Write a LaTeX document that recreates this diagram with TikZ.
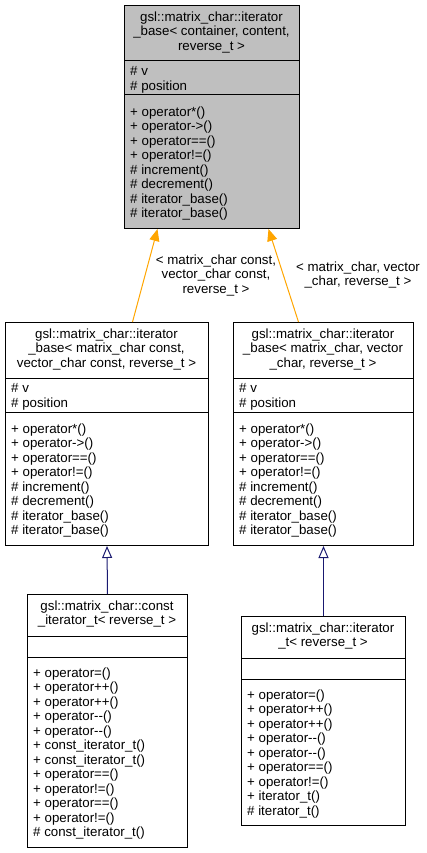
\documentclass[tikz,border=0pt]{standalone}
\usepackage{fontspec}
\setmainfont{Liberation Sans}
\usetikzlibrary{positioning,arrows.meta}
\definecolor{boxgray}{HTML}{BFBFBF}
\definecolor{tmplorange}{HTML}{FFA500}
\definecolor{inhblue}{HTML}{191970}
\tikzset{
  classbox/.style={draw, line width=1pt, anchor=north west, inner sep=0pt},
  members/.style={anchor=north west, inner sep=0pt, align=left,
    font=\fontsize{13.3}{14.5}\selectfont},
  classname/.style={anchor=north, inner sep=0pt, align=center,
    font=\fontsize{13.3}{14.5}\selectfont},
  tmpl/.style={draw=tmplorange, line width=1pt,
    -{Triangle[length=12pt,width=10pt,fill=tmplorange]}},
  inherit/.style={draw=inhblue, line width=1pt,
    -{Triangle[open,length=12pt,width=10pt,fill=white]}}
}
\begin{document}
\begin{tikzpicture}[x=1pt,y=-1pt]
  \useasboundingbox (0,0) rectangle (426,853);
  % boxes
  \node[classbox, fill=boxgray, minimum width=175pt, minimum height=223pt] (base) at (124,5) {};
  \node[classbox, minimum width=203pt, minimum height=223pt] (cbase) at (5,322) {};
  \node[classbox, minimum width=180pt, minimum height=223pt] (vbase) at (233,322) {};
  \node[classbox, minimum width=160pt, minimum height=253pt] (citer) at (27,594) {};
  \node[classbox, minimum width=164pt, minimum height=209pt] (iter) at (241,616) {};
  \draw[line width=1pt] (base.west |- 0,61) -- (base.east |- 0,61)
    (base.west |- 0,95) -- (base.east |- 0,95);
  \draw[line width=1pt] (cbase.west |- 0,378) -- (cbase.east |- 0,378)
    (cbase.west |- 0,412) -- (cbase.east |- 0,412);
  \draw[line width=1pt] (vbase.west |- 0,378) -- (vbase.east |- 0,378)
    (vbase.west |- 0,412) -- (vbase.east |- 0,412);
  \draw[line width=1pt] (citer.west |- 0,636) -- (citer.east |- 0,636)
    (citer.west |- 0,657) -- (citer.east |- 0,657);
  \draw[line width=1pt] (iter.west |- 0,658) -- (iter.east |- 0,658)
    (iter.west |- 0,679) -- (iter.east |- 0,679);

  % iterator_base< container, content, reverse_t >
  \node[classname] (baseT) at (211.5,11.3)
    {gsl::matrix\_char::iterator\\\_base< container, content,\\reverse\_t >};
  \node[members] (baseA) at (130,66.3) {\# v\\\# position};
  \node[members] (baseM) at (130,106.3)
    {+ operator*()\\+ operator->()\\+ operator==()\\+ operator!=()\\\# increment()\\\# decrement()\\\# iterator\_base()\\\# iterator\_base()};

  % const instance
  \node[classname] (cbaseT) at (106.5,328.3)
    {gsl::matrix\_char::iterator\\\_base< matrix\_char const,\\vector\_char const, reverse\_t >};
  \node[members] (cbaseA) at (11,383.3) {\# v\\\# position};
  \node[members] (cbaseM) at (11,423.3)
    {+ operator*()\\+ operator->()\\+ operator==()\\+ operator!=()\\\# increment()\\\# decrement()\\\# iterator\_base()\\\# iterator\_base()};

  % non-const instance
  \node[classname] (vbaseT) at (323,328.3)
    {gsl::matrix\_char::iterator\\\_base< matrix\_char, vector\\\_char, reverse\_t >};
  \node[members] (vbaseA) at (239,383.3) {\# v\\\# position};
  \node[members] (vbaseM) at (239,423.3)
    {+ operator*()\\+ operator->()\\+ operator==()\\+ operator!=()\\\# increment()\\\# decrement()\\\# iterator\_base()\\\# iterator\_base()};

  % const_iterator_t
  \node[classname] (citerT) at (107,600.3)
    {gsl::matrix\_char::const\\\_iterator\_t< reverse\_t >};
  \node[members] (citerM) at (33,667.3)
    {+ operator=()\\+ operator++()\\+ operator++()\\+ operator-{}-()\\+ operator-{}-()\\+ const\_iterator\_t()\\+ const\_iterator\_t()\\+ operator==()\\+ operator!=()\\+ operator==()\\+ operator!=()\\\# const\_iterator\_t()};

  % iterator_t
  \node[classname] (iterT) at (323,622.3)
    {gsl::matrix\_char::iterator\\\_t< reverse\_t >};
  \node[members] (iterM) at (247,689.3)
    {+ operator=()\\+ operator++()\\+ operator++()\\+ operator-{}-()\\+ operator-{}-()\\+ operator==()\\+ operator!=()\\+ iterator\_t()\\\# iterator\_t()};

  % template arguments
  \draw[tmpl] ([xshift=25.5pt]cbase.north) -- ([xshift=-54.5pt]base.south);
  \draw[tmpl] ([xshift=-25pt]vbase.north) -- ([xshift=56.5pt]base.south);
  \node[classname] (cargs) at (216,254.3)
    {< matrix\_char const,\\vector\_char const,\\reverse\_t >};
  \node[classname] (vargs) at (358,261.3)
    {< matrix\_char, vector\\\_char, reverse\_t >};

  % inheritance
  \draw[inherit] (citer.north) -- (cbase.south);
  \draw[inherit] (iter.north) -- (vbase.south);
\end{tikzpicture}
\end{document}
